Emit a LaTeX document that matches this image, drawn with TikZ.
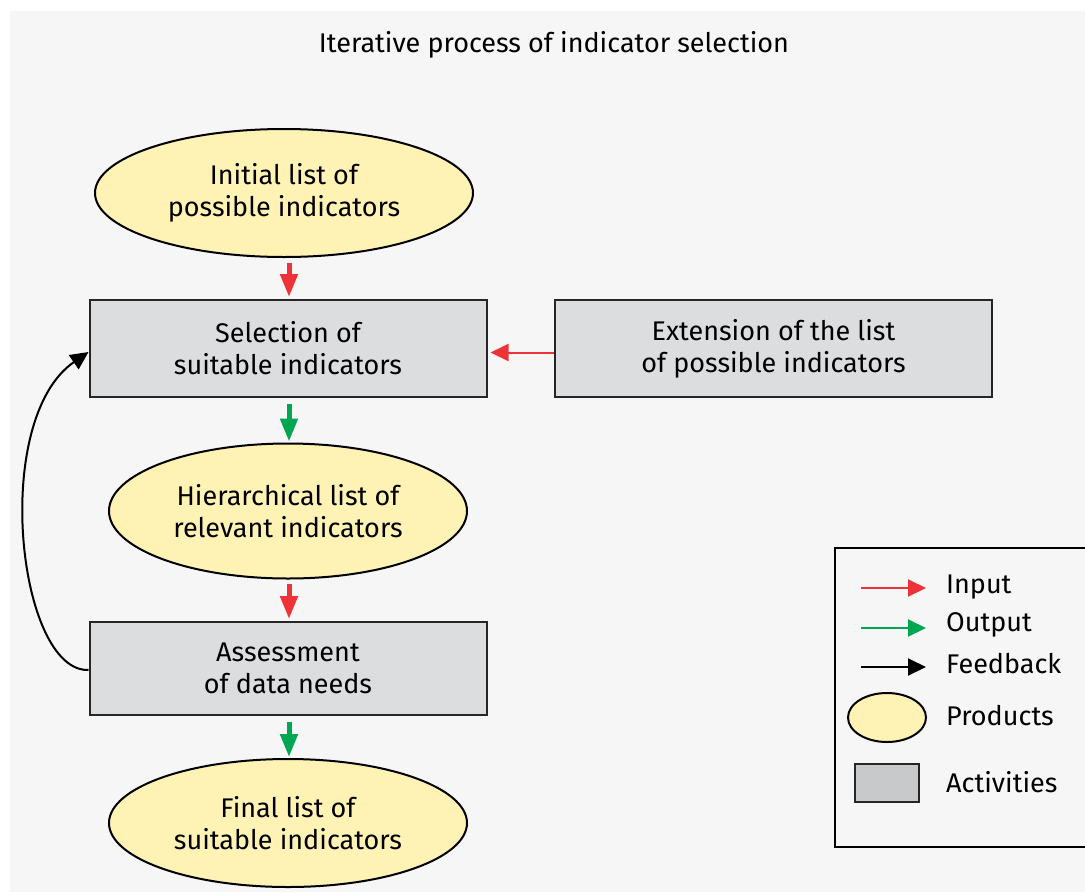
\documentclass[tikz,border=0pt]{standalone}
\usepackage{fontspec}
\setmainfont{Fira Sans}
\usetikzlibrary{shapes.geometric,arrows.meta}
\definecolor{pagebg}{HTML}{F6F6F6}
\definecolor{prodfill}{HTML}{FFF2B5}
\definecolor{actfill}{HTML}{DCDDDF}
\definecolor{legactfill}{HTML}{C8C9CB}
\definecolor{inred}{HTML}{EE3338}
\definecolor{outgreen}{HTML}{00A651}
\tikzset{
  txt/.style={font=\fontsize{27}{32}\selectfont, text=black, align=center},
  product/.style={txt, ellipse, draw=black, line width=2pt, fill=prodfill, inner sep=0pt},
  activity/.style={txt, rectangle, draw=black!85, line width=2pt, fill=actfill, inner sep=0pt},
  bigin/.style={draw=inred, line width=5pt, -{Triangle[length=23pt,width=17pt]}},
  bigout/.style={draw=outgreen, line width=5pt, -{Triangle[length=23pt,width=17pt]}},
  thinin/.style={draw=inred, line width=2pt, -{Triangle[length=18pt,width=17pt]}},
  thinout/.style={draw=outgreen, line width=2pt, -{Triangle[length=18pt,width=17pt]}},
  thinfb/.style={draw=black, line width=2pt, -{Triangle[length=18pt,width=17pt]}},
  legtxt/.style={font=\fontsize{27}{32}\selectfont, anchor=west, inner sep=0pt}
}
\begin{document}
\begin{tikzpicture}[x=1pt,y=-1pt]
\useasboundingbox (0,0) rectangle (1085,892);
\fill[white] (0,0) rectangle (1085,892);
\fill[pagebg] (10,11) rectangle (1085,892);

\node[txt] (title) at (554,45) {Iterative process of indicator selection};

% main column
\node[product, minimum width=378pt, minimum height=128pt] (e1) at (284,193)
  {Initial list of\\possible indicators};
\node[activity, minimum width=397pt, minimum height=97pt] (b1) at (288,348.5)
  {Selection of\\suitable indicators};
\node[activity, minimum width=437pt, minimum height=97pt] (b2) at (773.5,348.5)
  {Extension of the list\\of possible indicators};
\node[product, minimum width=358pt, minimum height=135pt] (e2) at (288,511)
  {Hierarchical list of\\relevant indicators};
\node[activity, minimum width=397pt, minimum height=93pt] (b3) at (288,668.5)
  {Assessment\\of data needs};
\node[product, minimum width=358pt, minimum height=128pt] (e3) at (288,823)
  {Final list of\\suitable indicators};

% connectors
\draw[bigin, shorten <=5pt, shorten >=2pt] ([xshift=1pt]e1.south -| b1.north) -- ([xshift=1pt]b1.north);
\draw[bigout, shorten <=6pt, shorten >=1pt] ([xshift=1pt]b1.south) -- ([xshift=1pt]e2.north);
\draw[bigin, shorten <=4pt, shorten >=2pt] ([xshift=1pt]e2.south) -- ([xshift=1pt]b3.north);
\draw[bigout, shorten <=6pt, shorten >=1pt] ([xshift=1pt]b3.south) -- ([xshift=1pt]e3.north);
\draw[thinin, shorten >=3pt] ([yshift=-4pt]b2.west) -- ([yshift=-4pt]b1.east);
\draw[thinfb] ([yshift=-1.5pt]b3.west) .. controls (18,672) and (-10,420) .. ([yshift=-3.5pt]b1.west);

% legend
\node[draw=black, line width=2pt, fill=pagebg, minimum width=252pt, minimum height=299pt, inner sep=0pt] (leg) at (961,697.5) {};
\coordinate (la1) at (861,588); \coordinate (lb1) at (926,588);
\coordinate (la2) at (861,628); \coordinate (lb2) at (926,628);
\coordinate (la3) at (861,667); \coordinate (lb3) at (926,667);
\draw[thinin] (la1) -- (lb1);
\draw[thinout] (la2) -- (lb2);
\draw[thinfb] (la3) -- (lb3);
\node[ellipse, draw=black, line width=2pt, fill=prodfill, minimum width=78pt, minimum height=49pt, inner sep=0pt] (lprod) at (887,717.5) {};
\node[rectangle, draw=black!85, line width=2pt, fill=legactfill, minimum width=64pt, minimum height=38pt, inner sep=0pt] (lact) at (887,783) {};
\node[legtxt] (tin) at (946,587) {Input};
\node[legtxt] (tout) at (946,625) {Output};
\node[legtxt] (tfb) at (946,664) {Feedback};
\node[legtxt] (tprod) at (946,716) {Products};
\node[legtxt] (tact) at (946,782) {Activities};
\end{tikzpicture}
\end{document}
